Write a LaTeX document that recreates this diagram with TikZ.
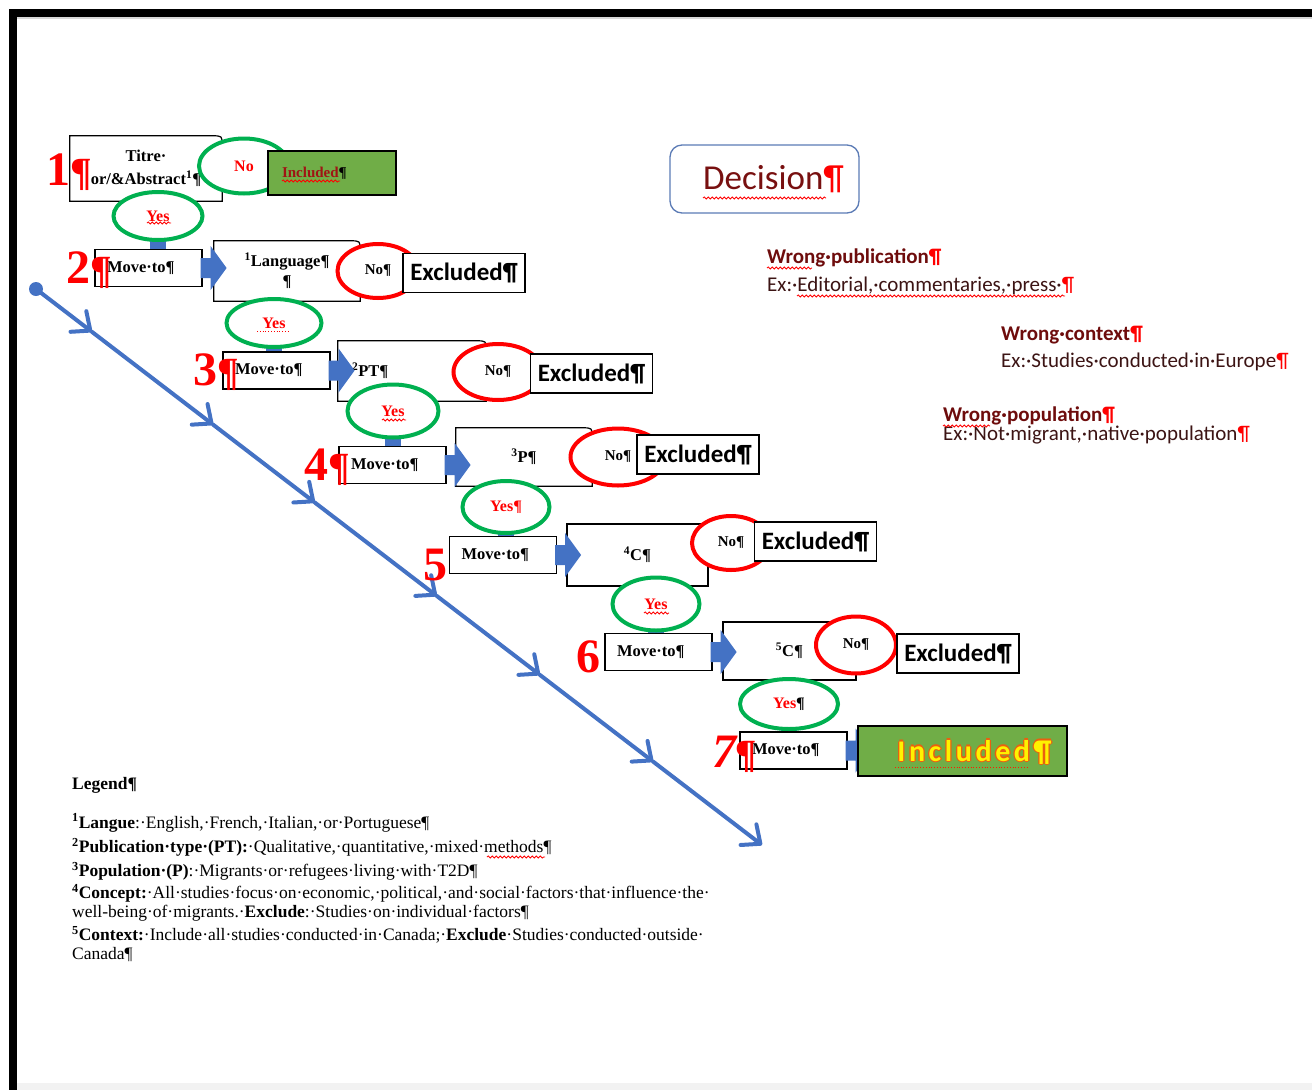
\documentclass[tikz,border=0pt]{standalone}
\usepackage{fontspec}
\setmainfont{Liberation Serif}
\newfontfamily\calibri{Carlito}
\newfontfamily\calibriwide[LetterSpace=12]{Carlito}
\usetikzlibrary{positioning,calc,backgrounds,shapes.geometric,arrows.meta,decorations.pathmorphing}

\definecolor{flowblue}{HTML}{4472C4}
\definecolor{okgreen}{HTML}{00B050}
\definecolor{leafgreen}{HTML}{70AD47}
\definecolor{decisionred}{RGB}{120,16,16}
\definecolor{decisionframe}{HTML}{5B7BB5}
\definecolor{wrongred}{RGB}{110,12,12}
\definecolor{exdark}{RGB}{60,20,20}
\definecolor{inclred}{RGB}{160,20,20}
\definecolor{outlineorange}{RGB}{235,95,15}

\newcommand\cornerbox{}
\def\cornerbox(#1)[#2]{%
  % outline with the top right corner rounded
  \draw[line width=1.2pt] (#1.south east) -- (#1.south west) -- (#1.north west)
    -- ([xshift=-#2pt]#1.north east) .. controls (#1.north east) .. ([yshift=-#2pt]#1.north east) -- cycle;
}
\newcommand\flowarrow{}
\def\flowarrow(#1){%
  % blue arrow on the right of a move box
  \fill[flowblue] ($(#1.east)+(-2,-10)$) -- ++(10,0) -- ++(0,-12) -- ($(#1.east)+(24,0)$)
    -- ($(#1.east)+(8,22)$) -- ++(0,-12) -- ($(#1.east)+(-2,10)$) -- cycle;
}
% yellow text with an orange edge
\newcommand\outlined[1]{\leavevmode
  \rlap{\textcolor{outlineorange}{\kern-1.3pt#1}}%
  \rlap{\textcolor{outlineorange}{\kern1.3pt#1}}%
  \rlap{\textcolor{outlineorange}{\raisebox{1.3pt}{#1}}}%
  \rlap{\textcolor{outlineorange}{\raisebox{-1.3pt}{#1}}}%
  #1}

\begin{document}
\begin{tikzpicture}[x=1pt, y=-1pt,
  every node/.style={inner sep=0pt},
  boxfont/.style={font=\bfseries\fontsize{16.5}{23}\selectfont},
  movebox/.style={draw, line width=1.2pt, fill=white, text width=83pt, inner xsep=12pt, minimum height=37pt, align=left, boxfont},
  critbox/.style={fill=white, boxfont, align=center},
  plainbox/.style={draw, line width=1.2pt, fill=white, boxfont, align=center},
  exbox/.style={draw, line width=1.2pt, fill=white, minimum width=122pt, minimum height=39pt, font=\calibri\bfseries\fontsize{25}{28}\selectfont},
  yesoval/.style={ellipse, draw=okgreen, line width=4pt, fill=white, text=red, font=\bfseries\fontsize{16}{18}\selectfont},
  nooval/.style={ellipse, draw=red, line width=4pt, fill=white, font=\bfseries\fontsize{15}{18}\selectfont},
  numlabel/.style={anchor=base west, text=red, font=\bfseries\fontsize{48}{48}\selectfont},
  wrongtitle/.style={anchor=west, text=wrongred, font=\calibri\bfseries\fontsize{21}{22}\selectfont},
  wrongex/.style={anchor=west, text=exdark, font=\calibri\fontsize{21}{22}\selectfont},
  legendline/.style={anchor=west, font=\fontsize{17.5}{19}\selectfont},
  squiggle/.style={red, line width=0.8pt, decorate, decoration={snake, amplitude=1.1pt, segment length=4pt}},
  diag/.style={flowblue, line width=4pt, line cap=round, -{Straight Barb[length=15pt, width=26pt, round]}}
]
\useasboundingbox (0,0) rectangle (1312,1090);

% page frame
\fill[black] (9,9) rectangle (1312,17);
\fill[black] (9,9) rectangle (17,1090);
\fill[black!15] (17,17) rectangle (1312,19);
\fill[black!5] (17,1083) rectangle (1312,1090);

% diagonal time line
\coordinate (d0) at (36,289);
\coordinate (d7) at (762,845);
\foreach \f [count=\i] in {0.077,0.244,0.384,0.552,0.694,0.850}
  \coordinate (d\i) at ($(d0)!\f!(d7)$);
\foreach \i [remember=\i as \j (initially 0)] in {1,...,7}
  \draw[diag] (d\j) -- (d\i);
\fill[flowblue] (d0) circle (7);

% criteria boxes
\node[critbox, minimum width=152pt, minimum height=65pt] (t1) at (146,168.5) {Titre·\\or/\&Abstract\textsuperscript{1}¶};
\cornerbox(t1)[10]
\node[critbox, minimum width=146pt, minimum height=60pt, font=\bfseries\fontsize{16.5}{20}\selectfont] (c2) at (287,271) {\textsuperscript{1}Language¶\\¶};
\cornerbox(c2)[10]
\node[critbox, minimum width=148pt, minimum height=60pt, text width=120pt, align=left] (c3) at (412,371) {\textsuperscript{2}PT¶};
\cornerbox(c3)[10]
\node[critbox, minimum width=136pt, minimum height=58pt] (c4) at (524,457) {\textsuperscript{3}P¶};
\cornerbox(c4)[10]
\node[plainbox, minimum width=141pt, minimum height=62pt] (c5) at (637.5,555) {\textsuperscript{4}C¶};
\node[plainbox, minimum width=133pt, minimum height=58pt] (c6) at (789.5,651) {\textsuperscript{5}C¶};

% move boxes
\node[movebox] (m2) at (148.5,268) {Move·to¶};
\node[movebox] (m3) at (276.5,370.5) {Move·to¶};
\node[movebox] (m4) at (392.5,465) {Move·to¶};
\node[movebox] (m5) at (503,555) {Move·to¶};
\node[movebox] (m6) at (658.5,652) {Move·to¶};
\node[movebox] (m7) at (793.5,750.5) {Move·to¶};
\foreach \m in {m2,m3,m4,m5,m6,m7} {\flowarrow(\m)}

% answers
\node[yesoval, minimum width=89pt, minimum height=48pt] (y1) at (158,216) {Yes};
\node[yesoval, minimum width=90pt, minimum height=55pt] (n1) at (244,166) {No};
\node[nooval, minimum width=81pt, minimum height=54pt] (x2) at (378,271) {No¶};
\node[yesoval, minimum width=95pt, minimum height=48pt] (y2) at (274,323) {Yes};
\node[nooval, minimum width=89pt, minimum height=56pt] (x3) at (498,372) {No¶};
\node[yesoval, minimum width=91pt, minimum height=53pt] (y3) at (393,411) {Yes};
\node[nooval, minimum width=95pt, minimum height=57pt] (x4) at (618,457) {No¶};
\node[yesoval, minimum width=87pt, minimum height=52pt] (y4) at (506,507) {Yes¶};
\node[nooval, minimum width=78pt, minimum height=54pt] (x5) at (731,543) {No¶};
\node[yesoval, minimum width=87pt, minimum height=53pt] (y5) at (656,604) {Yes};
\node[nooval, minimum width=80pt, minimum height=57pt] (x6) at (856,645) {No¶};
\node[yesoval, minimum width=98pt, minimum height=50pt] (y6) at (789,704) {Yes\textcolor{black}{¶}};

\begin{scope}[on background layer]
  \foreach \a/\b in {y1/m2,y2/m3,y3/m4,y4/m5,y5/m6,y6/m7}
    \fill[flowblue] ($(\a.center)+(-8,0)$) rectangle ($(\a.center |- \b.north)+(8,4)$);
\end{scope}

% results
\node[draw, line width=1.2pt, fill=leafgreen, minimum width=128pt, minimum height=44pt, text width=100pt, inner xsep=14pt, align=left, text=inclred, font=\bfseries\fontsize{15}{18}\selectfont] (i1) at (332,173) {Included\textcolor{black}{¶}};
\node[exbox] (e2) at (464,273) {Excluded¶};
\node[exbox] (e3) at (591.5,373.5) {Excluded¶};
\node[exbox] (e4) at (698,454.5) {Excluded¶};
\node[exbox] (e5) at (815.5,541.5) {Excluded¶};
\node[exbox] (e6) at (958,653.5) {Excluded¶};
\node[draw, line width=1.2pt, fill=leafgreen, minimum width=209pt, minimum height=50pt] (i7) at (962.5,751) {};
\node[text=yellow, font=\calibriwide\bfseries\fontsize{30}{32}\selectfont] (i7txt) at ($(i7.center)+(12,1)$) {\outlined{Included¶}};

% step numbers
\node[numlabel] (s1) at (46,185) {1\fontsize{40}{40}\selectfont¶};
\node[numlabel] (s2) at (66,283) {2\fontsize{40}{40}\selectfont¶};
\node[numlabel] (s3) at (193,385) {3\fontsize{40}{40}\selectfont¶};
\node[numlabel] (s4) at (304,480) {4\fontsize{40}{40}\selectfont¶};
\node[numlabel] (s5) at (423,580) {5};
\node[numlabel] (s6) at (576,672) {6};
\node[numlabel, font=\bfseries\itshape\fontsize{48}{48}\selectfont] (s7) at (712,767) {7\fontsize{40}{40}\selectfont¶};

% decision side
\node[draw=decisionframe, line width=1.3pt, rounded corners=12pt, minimum width=189pt, minimum height=68pt, text=decisionred, font=\calibri\fontsize{35}{38}\selectfont] (dec) at (764.5,179) {\hspace*{18pt}Decision\textcolor{red}{¶}};
\node[wrongtitle] (wpub) at (767,258) {Wrong·publication\textcolor{red}{¶}};
\node[wrongex] (wpubx) at (767,286) {Ex:·Editorial,·commentaries,·press·\textcolor{red}{¶}};
\node[wrongtitle] (wctx) at (1001,335) {Wrong·context\textcolor{red}{¶}};
\node[wrongex] (wctxx) at (1001,362) {Ex:·Studies·conducted·in·Europe\textcolor{red}{¶}};
\node[wrongtitle] (wpop) at (943,416) {Wrong·population\textcolor{red}{¶}};
\node[wrongex] (wpopx) at (943,435) {Ex:·Not·migrant,·native·population\textcolor{red}{¶}};

% legend
\node[legendline] (lg0) at (72,785) {\textbf{Legend¶}};
\node[legendline] (lg1) at (72,823) {\textsuperscript{\textbf{1}}\textbf{Langue}:·English,·French,·Italian,·or·Portuguese¶};
\node[legendline] (lg2) at (72,847) {\textsuperscript{\textbf{2}}\textbf{Publication·type·(PT):}·Qualitative,·quantitative,·mixed·methods¶};
\node[legendline] (lg3) at (72,871) {\textsuperscript{\textbf{3}}\textbf{Population·(P)}:·Migrants·or·refugees·living·with·T2D¶};
\node[legendline] (lg4) at (72,893) {\textsuperscript{\textbf{4}}\textbf{Concept:}·All·studies·focus·on·economic,·political,·and·social·factors·that·influence·the·};
\node[legendline] (lg5) at (72,913) {well-being·of·migrants.·\textbf{Exclude}:·Studies·on·individual·factors¶};
\node[legendline] (lg6) at (72,935) {\textsuperscript{\textbf{5}}\textbf{Context:}·Include·all·studies·conducted·in·Canada;·\textbf{Exclude}·Studies·conducted·outside·};
\node[legendline] (lg7) at (72,955) {Canada¶};

% spelling marks
\draw[squiggle] (147,223) -- (171,223);
\draw[squiggle] (382,420) -- (406,420);
\draw[squiggle] (644,613) -- (669,613);
\draw[red, line width=0.8pt, dotted] (257,331) -- (290,331);
\draw[squiggle] (282,181) -- (340,181);
\draw[squiggle] (703,198) -- (826,198);
\draw[squiggle] (767,268) -- (812,268);
\draw[squiggle] (797,296) -- (1065,296);
\draw[squiggle] (943,426) -- (990,426);
\draw[squiggle] (487,857) -- (545,857);
\draw[red!80!orange, line width=0.8pt, dotted] (895,767) -- (1028,767);
\end{tikzpicture}
\end{document}
